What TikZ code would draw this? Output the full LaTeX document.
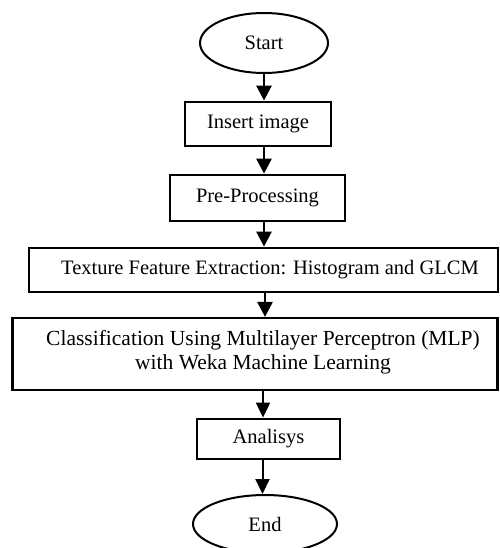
\documentclass[tikz,border=0pt]{standalone}
\usepackage{fontspec}
\setmainfont{Liberation Serif}
\usetikzlibrary{shapes.geometric,arrows.meta}
\tikzset{
  boxnode/.style={draw,rectangle,line width=2.8pt,inner sep=0pt,font=\fontsize{20.5}{24}\selectfont},
  ovalnode/.style={draw,ellipse,line width=2pt,inner sep=0pt,font=\fontsize{20.5}{24}\selectfont},
  textonly/.style={inner sep=0pt,align=center},
  arr/.style={line width=2.8pt,-{Triangle[length=15pt,width=15pt]}},
  thinarr/.style={line width=2pt,-{Triangle[length=15pt,width=14pt]}}
}
\begin{document}
\begin{tikzpicture}[x=1pt,y=-1pt]
\useasboundingbox (0,0) rectangle (499,548);
\node[ovalnode,minimum width=128pt,minimum height=60pt] (start) at (264,43) {Start};
\node[boxnode,minimum width=146pt,minimum height=44pt] (insert) at (258,124) {Insert image};
\node[boxnode,minimum width=175pt,minimum height=46pt] (pre) at (257.5,198) {Pre-Processing};
\node[boxnode,minimum width=469pt,minimum height=44pt] (tex) at (263.5,270) {};
\node[textonly,font=\fontsize{20.5}{24}\selectfont] (textxt) at (270,270) {Texture Feature Extraction: Histogram and GLCM};
\node[boxnode,line width=2.2pt,minimum width=485pt,minimum height=72pt] (cls) at (255,354) {};
\node[textonly,font=\fontsize{21.5}{24}\selectfont] (clstxt) at (263,352) {Classification Using Multilayer Perceptron (MLP)\\with Weka Machine Learning};
\node[boxnode,minimum width=143pt,minimum height=40pt] (ana) at (268.5,439) {Analisys};
\node[ovalnode,minimum width=144pt,minimum height=58pt] (end) at (265,524) {End};
\draw[arr] (start.south) -- (start.south |- insert.north);
\draw[arr] ([xshift=6pt]insert.south) -- ([xshift=6pt]insert.south |- pre.north);
\draw[arr] ([xshift=6.5pt]pre.south) -- ([xshift=6.5pt]pre.south |- tex.north);
\draw[arr] ([xshift=1.5pt]tex.south) -- ([xshift=1.5pt]tex.south |- cls.north);
\draw[thinarr] ([xshift=8pt]cls.south) -- ([xshift=8pt]cls.south |- ana.north);
\draw[thinarr] ([xshift=-6pt]ana.south) -- ([xshift=-6pt]ana.south |- end.north);
\end{tikzpicture}
\end{document}
